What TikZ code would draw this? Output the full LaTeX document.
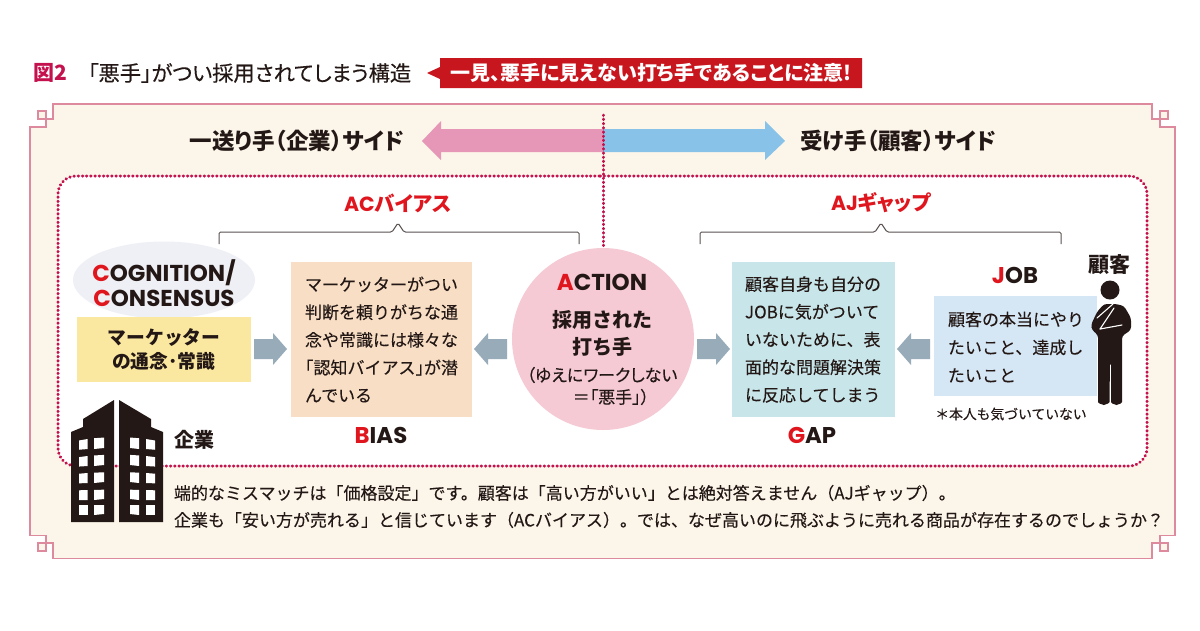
\documentclass[tikz,border=0pt]{standalone}
\usepackage{fontspec}
\setmainfont{Noto Sans CJK JP}[UprightFeatures={FakeBold=0.2}]
\newfontfamily\popf{Poppins}
\newfontfamily\paltf{Noto Sans CJK JP}[RawFeature=+palt,UprightFeatures={FakeBold=0.2}]
\definecolor{cream}{HTML}{FCF6EA}
\definecolor{framec}{HTML}{DE8A9E}
\definecolor{dotc}{HTML}{C4124F}
\definecolor{redt}{HTML}{E0161E}
\definecolor{ink}{HTML}{231815}
\definecolor{arrowc}{HTML}{97ABB9}
\definecolor{pinkar}{RGB}{230,150,182}
\definecolor{bluear}{RGB}{137,194,232}
\definecolor{circc}{RGB}{245,202,213}
\definecolor{ellc}{RGB}{239,240,245}
\definecolor{yelc}{RGB}{250,232,160}
\definecolor{biasc}{RGB}{248,222,197}
\definecolor{gapc}{RGB}{200,230,234}
\definecolor{jobc}{RGB}{213,231,245}
\definecolor{banc}{HTML}{C8161E}
\tikzset{
  x=1pt,y=-1pt,
  txt/.style={inner sep=0pt,outer sep=0pt,text=ink,font=\fontsize{#1}{#1}\selectfont},
  txt/.default=16,
  block/.style={draw=none,inner sep=0pt,outer sep=0pt},
  dotline/.style={draw=dotc,line width=3pt,line cap=round,dash pattern=on 0.5pt off 3.7pt},
  bracket/.style={draw=ink!75,line width=1pt,rounded corners=1.5pt}
}
\newcommand{\flowR}[2]{\fill[arrowc] (#1,339)--(#1+19,339)--(#1+19,333)--(#2,349)--(#1+19,365)--(#1+19,359)--(#1,359)--cycle;}
\newcommand{\flowL}[2]{\fill[arrowc] (#1,339)--(#1-19,339)--(#1-19,333)--(#2,349)--(#1-19,365)--(#1-19,359)--(#1,359)--cycle;}
\newcommand{\hd}[2]{{\popf\bfseries\textcolor{redt}{#1}#2}}
\newcommand{\lbr}{\makebox[.5em][r]{「}}
\newcommand{\rbr}{\makebox[.5em][l]{」}}
\begin{document}
\begin{tikzpicture}
\useasboundingbox (0,0) rectangle (1200,630);
\fill[white] (0,0) rectangle (1200,630);
% frame
\path[fill=cream,draw=framec,line width=1.2pt]
 (30,127)--(46,127)--(46,111)--(38,111)--(38,119)--(53,119)--(53,104)
 --(1152,104)--(1152,119)--(1168,119)--(1168,111)--(1160,111)--(1160,127)--(1175,127)
 --(1175,535.5)--(1160,535.5)--(1160,551)--(1168,551)--(1168,543)--(1152,543)--(1152,558.5)
 --(53,558.5)--(53,543)--(38,543)--(38,551)--(46,551)--(46,535.5)--(30,535.5)--cycle;
% title
\node[txt=21,anchor=west,text=dotc] (fig) at (33,73) {\bfseries 図2};
\node[txt=21.2,anchor=west] (title) at (88,73) {\paltf 「悪手」がつい採用されてしまう構造};
\path[fill=banc,draw=none] (440,58)--(862,58)--(862,88)--(440,88)--(440,79)--(427,73)--(440,67)--cycle;
\node[txt=20,anchor=center,text=white] (banner) at (651,73) {\paltf\bfseries 一見、悪手に見えない打ち手であることに注意!};
% side heads
\node[txt=22.5,anchor=center] (sideL) at (297,141) {\paltf\bfseries 一送り手（企業）サイド};
\node[txt=22.5,anchor=center] (sideR) at (898,141) {\paltf\bfseries 受け手（顧客）サイド};
% dotted inner panel
\path[fill=white,rounded corners=18pt] (58,176) -- (1147,176) -- (1147,466) -- (58,466) -- cycle;
\draw[dotline,rounded corners=18pt] (600,176)--(1147,176)--(1147,466)--(58,466)--(58,176)--(600,176);
% big arrows
\fill[pinkar] (603,129)--(441,129)--(441,121)--(422,141)--(441,160)--(441,152)--(603,152)--cycle;
\fill[bluear] (603,129)--(765,129)--(765,121)--(785,141)--(765,160)--(765,152)--(603,152)--cycle;
\coordinate (divT) at (603,115);
% circle
\node[circle,block,fill=circc,minimum size=182pt] (action) at (603,339) {};
\draw[dotline] (divT)--(action.north);
% brackets
\draw[bracket] (219,244)--(219,232)--(392,232)--(398,223)--(404,232)--(579,232)--(579,244);
\draw[bracket] (700,244)--(700,232)--(875,232)--(881,223)--(887,232)--(1061,232)--(1061,244);
\node[txt=20.5,text=redt] (acb) at (398,203) {\paltf\bfseries{\popf AC}バイアス};
\node[txt=20.5,text=redt] (ajg) at (881,203) {\paltf\bfseries{\popf AJ}ギャップ};
% cognition
\fill[ellc] (164,280) ellipse [x radius=91pt,y radius=38.5pt];
\node[txt=23,align=center] (cog) at (164,283) {\hd{C}{OGNITION/}\\[1.5pt]\hd{C}{ONSENSUS}};
\node[block,fill=yelc,minimum width=174pt,minimum height=65pt] (conv) at (164,349.5) {};
\node[txt=18.8,align=center] (convt) at (164,349.5) {\bfseries マーケッター\\[5pt]\paltf\bfseries の通念･常識};
% boxes
\node[block,fill=biasc,minimum width=181pt,minimum height=155pt] (bias) at (381.5,339.5) {};
\node[txt=17,align=left,anchor=west] (biast) at (305,339.5) {マーケッターがつい\\[10.7pt]判断を頼りがちな通\\[10.7pt]念や常識には様々な\\[10.7pt]\lbr 認知バイアス\rbr が潜\\[10.7pt]んでいる};
\node[block,fill=gapc,minimum width=163pt,minimum height=155pt] (gap) at (813.5,339.5) {};
\node[txt=17,align=left,anchor=west] (gapt) at (745,339.5) {顧客自身も自分の\\[10.7pt]JOBに気がついて\\[10.7pt]いないために、表\\[10.7pt]面的な問題解決策\\[10.7pt]に反応してしまう};
\node[block,fill=jobc,minimum width=163pt,minimum height=100pt] (job) at (1015.5,346) {};
\node[txt=17,align=left,anchor=west] (jobt) at (948,347) {顧客の本当にやり\\[11pt]たいこと、達成し\\[11pt]たいこと};
% circle text
\node[txt=23] (act) at (602,282) {\hd{A}{CTION}};
\node[txt=20,align=center] (actm) at (602,333.5) {\bfseries 採用された\\[7pt]\bfseries 打ち手};
\node[txt=17,anchor=center] (act1) at (602,375) {\paltf （ゆえにワークしない};
\node[txt=17,anchor=center] (act2) at (611,397) {\paltf ＝「悪手」）};
% labels
\node[txt=22.8] (biasl) at (381,435) {\hd{B}{IAS}};
\node[txt=22.8] (gapl) at (812,435) {\hd{G}{AP}};
\node[txt=22.8] (jobl) at (1015,275) {\hd{J}{OB}};
\node[txt=21,anchor=center] (kokyaku) at (1109,265) {\bfseries 顧客};
\node[txt=13.8,anchor=center] (note) at (1011,414) {＊本人も気づいていない};
% flow arrows
\flowR{254}{287}
\flowL{507}{474}
\flowR{697}{730}
\flowL{930}{897}
% person
\fill[ink] (1110,290) circle (9.5pt);
\fill[ink,rounded corners=3pt] (1104,304)--(1116,304)--(1124,306)--(1131,318)--(1131,330)--(1122,336)
  --(1122,399) arc[start angle=0,end angle=-180,x radius=5.5pt,y radius=6pt]
  --(1111,362)--(1110,362)--(1109.5,399)
  arc[start angle=0,end angle=-180,x radius=5.75pt,y radius=6pt]
  --(1098,335)--(1092,330)--(1091,325)--(1097,312)--cycle;
\draw[white,line width=1.1pt,line cap=round] (1113,304)--(1097,318);
\draw[white,line width=1.1pt,line cap=round] (1100,329)--(1114,308);
\draw[white,line width=1.1pt,line cap=round] (1100,329)--(1122,325);
% building
\fill[ink] (114,400)--(83,419)--(83,427)--(71,432)--(71,522)--(114,522)--cycle;
\fill[ink] (119,400)--(151,419)--(151,427)--(163,432)--(163,522)--(119,522)--cycle;
\foreach \y/\s in {439/1.5,456/1.1,473/0.7,490/0.3,505/0}{
  \fill[white] (79,\y+\s)--(87.5,\y)--(87.5,\y+10)--(79,\y+10+\s*0.5)--cycle;
  \fill[white] (94,\y-\s*0.5)--(104,\y-\s)--(104,\y+9)--(94,\y+10)--cycle;
  \fill[white] (130,\y-\s)--(139,\y-\s*0.5)--(139,\y+10)--(130,\y+9)--cycle;
  \fill[white] (146,\y)--(155,\y+\s)--(155,\y+10+\s*0.5)--(146,\y+10)--cycle;
}
\node[txt=20,anchor=center] (kigyo) at (194,440) {\bfseries 企業};
% bottom
\node[txt=17,anchor=west] (b1) at (174,493) {端的なミスマッチは「価格設定」です。顧客は「高い方がいい」とは絶対答えません（AJギャップ）。};
\node[txt=17,anchor=west] (b2) at (174,520) {企業も「安い方が売れる」と信じています（ACバイアス）。では、なぜ高いのに飛ぶように売れる商品が存在するのでしょうか？};
\end{tikzpicture}
\end{document}
